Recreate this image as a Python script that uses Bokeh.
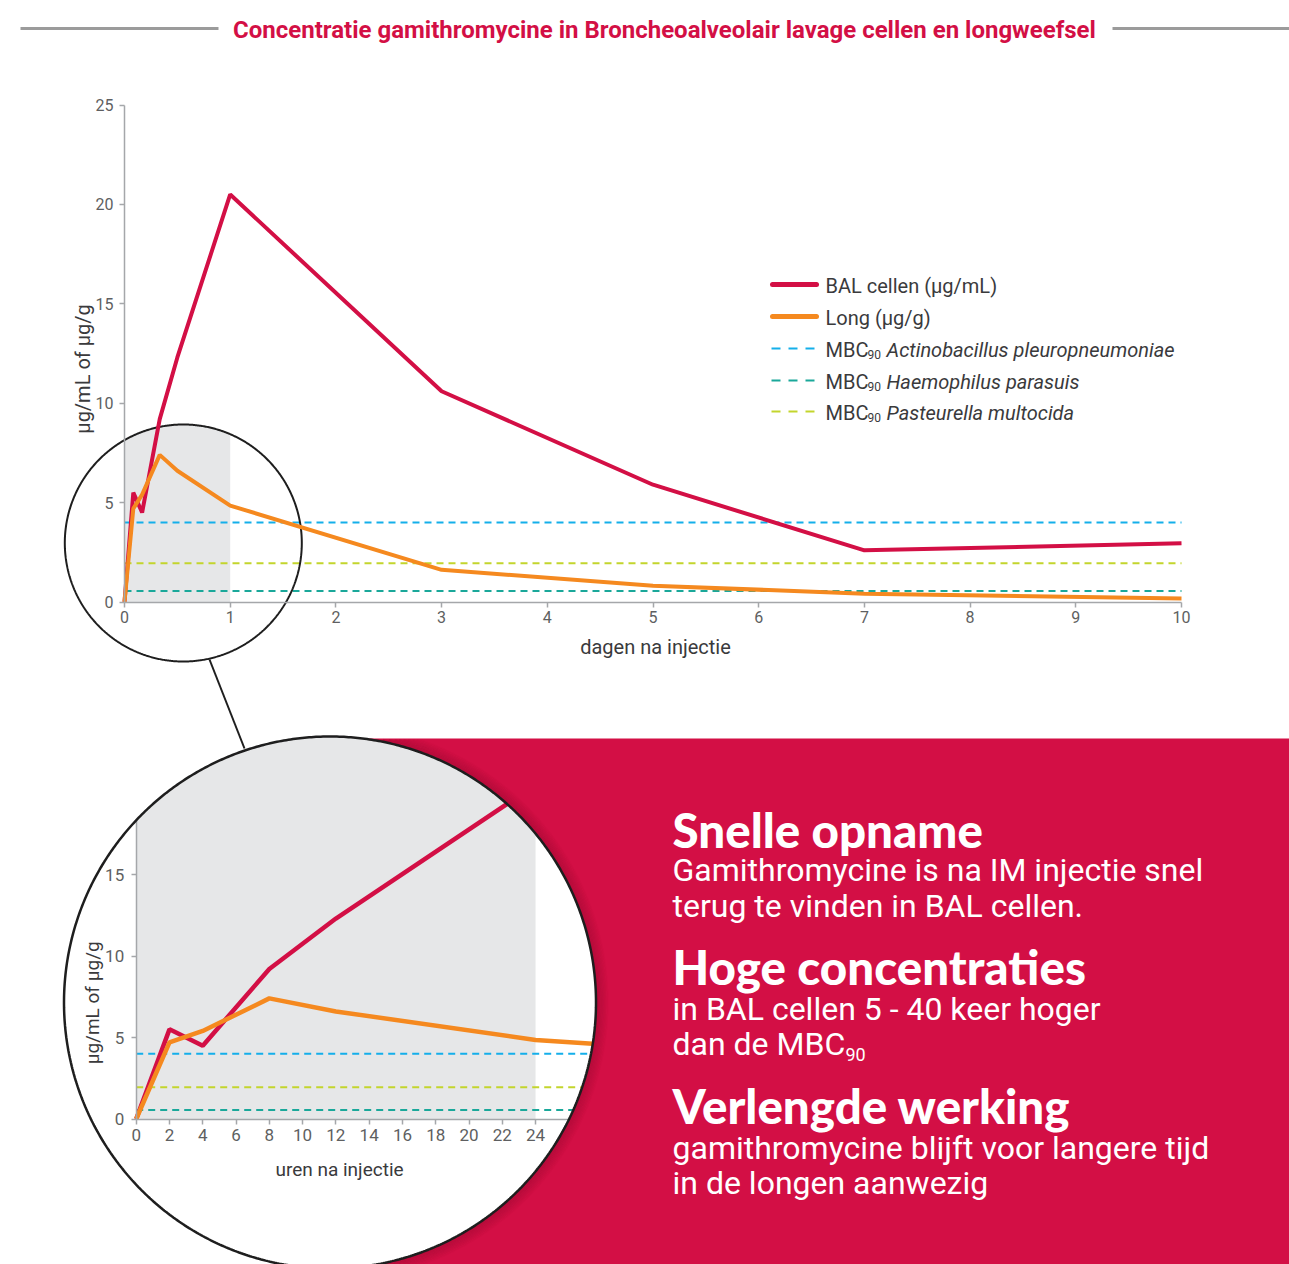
import numpy as np
from bokeh.plotting import figure
from bokeh.models import Range1d, LinearAxis, FixedTicker
from bokeh.core.properties import value
from bokeh.embed import file_html
from bokeh.resources import INLINE

# ---------------- data ----------------
hours = [0, 2, 4, 8, 12, 24, 72, 120, 168, 240]
bal_cells = [0, 5.5, 4.5, 9.2, 12.3, 20.5, 10.6, 5.9, 2.6, 2.95]
lung = [0, 4.7, 5.4, 7.4, 6.6, 4.85, 1.62, 0.82, 0.42, 0.18]
mbc_species = ["Actinobacillus pleuropneumoniae", "Haemophilus parasuis", "Pasteurella multocida"]
mbc90 = [4.0, 0.55, 1.95]
series_labels = ["BAL cellen (µg/mL)", "Long (µg/g)"]
zoom_span_hours = [0, 24]
main_y_ticks = [0, 5, 10, 15, 20, 25]
main_x_ticks = [0, 1, 2, 3, 4, 5, 6, 7, 8, 9, 10]
inset_y_ticks = [0, 5, 10, 15]
inset_x_ticks = [0, 2, 4, 6, 8, 10, 12, 14, 16, 18, 20, 22, 24]
title = "Concentratie gamithromycine in Broncheoalveolair lavage cellen en longweefsel"
y_title = "µg/mL of  µg/g"
main_x_title = "dagen na injectie"
inset_x_title = "uren na injectie"
panel_heads = ["Snelle opname", "Hoge concentraties", "Verlengde werking"]
panel_lines = [["Gamithromycine is na IM injectie snel", "terug te vinden in BAL cellen."],
               ["in BAL cellen 5 - 40 keer hoger", "dan de MBC"],
               ["gamithromycine blijft voor langere tijd", "in de longen aanwezig"]]

days = [h / 24 for h in hours]

# ---------------- style ----------------
RED = "#D30F45"
ORANGE = "#F5891F"
MBC_COLORS = ["#14AFEA", "#1AA89A", "#C3D52D"]
GRAYBG = "#E6E7E8"
AXIS = "#A5A7AA"
TICKC = "#5E5F61"
TEXTC = "#3A3A3C"
FONT = "Roboto"
HEAD = "Lato Black"

W, H = 1289, 1264
L, T = 0, 0
R, B = L + W, T + H
MX0, MXS = 124.0, 105.7
MY0, MYS = 601.5, 19.88
IX0, IXS = 135.7, 16.64
IY0, IYS = 1118.5, 16.3
SCX, SCY, SCR = 182.8, 542.5, 118.5
BCX, BCY, BCR = 329.5, 1002.0, 266.0
PANEL_TOP = 738

p = figure(width=W, height=H, x_range=Range1d(L, R), y_range=Range1d(B, T),
           min_border=0, toolbar_location=None, output_backend="svg",
           x_axis_type=None, y_axis_type=None, outline_line_color=None,
           background_fill_color="white", border_fill_color="white")
p.extra_x_ranges = {"dx": Range1d((L - MX0) / MXS, (R - MX0) / MXS),
                    "hx": Range1d((L - IX0) / IXS, (R - IX0) / IXS)}
p.extra_y_ranges = {"cy": Range1d((MY0 - B) / MYS, (MY0 - T) / MYS),
                    "hy": Range1d((IY0 - B) / IYS, (IY0 - T) / IYS)}


def txt(x, y, s, size, color, font=FONT, style="normal", align="left",
        baseline="middle", angle=0.0, level="overlay"):
    r = p.text(x=[x], y=[y], text=[s], text_font=value(font),
               text_font_size=f"{size}px", text_color=color,
               text_font_style=style, text_align=align,
               text_baseline=baseline, angle=angle)
    r.level = level
    return r


def style_axis(ax, size, standoff, tick_out=5):
    ax.axis_line_color = AXIS
    ax.axis_line_width = 1.5
    ax.major_tick_line_color = AXIS
    ax.major_tick_line_width = 1.5
    ax.major_tick_out = tick_out
    ax.major_tick_in = 0
    ax.minor_tick_line_color = None
    ax.major_label_text_font = FONT
    ax.major_label_text_font_size = f"{size}px"
    ax.major_label_text_color = TICKC
    ax.major_label_standoff = standoff


# ---------------- title ----------------
p.segment(x0=[20, 1112], y0=[28, 28], x1=[218, R], y1=[28, 28],
          line_color="#9B9B9B", line_width=3)
txt(664, 29, title, 24, RED, style="bold", align="center")

# ---------------- main chart ----------------
gx0 = MX0 + zoom_span_hours[0] / 24 * MXS
gx1 = MX0 + zoom_span_hours[1] / 24 * MXS
gxs = np.linspace(gx0, gx1, 200)
half = np.sqrt(np.clip(SCR ** 2 - (gxs - SCX) ** 2, 0, None))
top = SCY - half
bot = np.minimum(MY0, SCY + half)
p.patch(np.concatenate([gxs, gxs[::-1]]), np.concatenate([top, bot[::-1]]),
        fill_color=GRAYBG, line_color=None)

for v, c in zip(mbc90, MBC_COLORS):
    p.segment(x0=[days[0]], y0=[v], x1=[days[-1]], y1=[v], x_range_name="dx",
              y_range_name="cy", line_color=c, line_width=2, line_dash="7 5")

th = np.linspace(0, 2 * np.pi, 721)
p.line(SCX + SCR * np.cos(th), SCY + SCR * np.sin(th), line_color="#1E1E1E", line_width=2)

p.line(days, bal_cells, x_range_name="dx", y_range_name="cy", line_color=RED, line_width=4)
p.line(days, lung, x_range_name="dx", y_range_name="cy", line_color=ORANGE, line_width=4)

yax = LinearAxis(x_range_name="dx", y_range_name="cy", fixed_location=0,
                 bounds=(main_y_ticks[0], main_y_ticks[-1]), ticker=FixedTicker(ticks=main_y_ticks))
style_axis(yax, 16, 6)
p.add_layout(yax, "left")
xax = LinearAxis(x_range_name="dx", y_range_name="cy", fixed_location=0,
                 bounds=(main_x_ticks[0], main_x_ticks[-1]), ticker=FixedTicker(ticks=main_x_ticks))
style_axis(xax, 16, 4)
p.add_layout(xax, "below")

txt(655, 646, main_x_title, 20, TEXTC, align="center", level="glyph")
txt(82, 366, y_title, 20, TEXTC, angle=np.pi / 2, align="center", level="glyph")

# legend
leg_y = [284, 316, 348, 380, 411]
p.segment(x0=[772, 772], y0=leg_y[:2], x1=[816, 816], y1=leg_y[:2],
          line_color=[RED, ORANGE], line_width=5, line_cap="round")
order = [0, 1, 2]
for i, k in enumerate(order):
    p.segment(x0=[771], y0=[leg_y[2 + i]], x1=[818], y1=[leg_y[2 + i]],
              line_color=MBC_COLORS[k], line_width=2, line_dash="9 8")
txt(825, leg_y[0] + 1, series_labels[0], 20, TEXTC)
txt(825, leg_y[1] + 1, series_labels[1], 20, TEXTC)
for i, k in enumerate(order):
    txt(825, leg_y[2 + i] + 1, "MBC", 20, TEXTC)
    txt(867, leg_y[2 + i] + 6, "90", 12, TEXTC)
    txt(886, leg_y[2 + i] + 1, mbc_species[k], 20, TEXTC, style="italic")

# ---------------- inset (zoom) ----------------
p.quad(left=[zoom_span_hours[0]], right=[zoom_span_hours[1]], bottom=[0], top=[25],
       x_range_name="hx", y_range_name="hy", fill_color=GRAYBG, line_color=None)
for v, c in zip(mbc90, MBC_COLORS):
    p.segment(x0=[hours[0]], y0=[v], x1=[hours[-1]], y1=[v], x_range_name="hx",
              y_range_name="hy", line_color=c, line_width=2, line_dash="7 5")
p.line(hours, bal_cells, x_range_name="hx", y_range_name="hy", line_color=RED, line_width=4.5)
p.line(hours, lung, x_range_name="hx", y_range_name="hy", line_color=ORANGE, line_width=4.5)

ytop = (IY0 - (BCY - np.sqrt(BCR ** 2 - (IX0 - BCX) ** 2))) / IYS
xright = (BCX + np.sqrt(BCR ** 2 - (IY0 - BCY) ** 2) - IX0) / IXS
iyax = LinearAxis(x_range_name="hx", y_range_name="hy", fixed_location=0,
                  bounds=(0, float(ytop)), ticker=FixedTicker(ticks=inset_y_ticks))
style_axis(iyax, 17, 7)
p.add_layout(iyax, "left")
ixax = LinearAxis(x_range_name="hx", y_range_name="hy", fixed_location=0,
                  bounds=(0, float(xright)), ticker=FixedTicker(ticks=inset_x_ticks))
style_axis(ixax, 17, 5)
p.add_layout(ixax, "below")
txt(339, 1169, inset_x_title, 19, TEXTC, align="center")
txt(92, 1000, y_title, 19, TEXTC, angle=np.pi / 2, align="center")

# masks: everything outside the big circle
cxs = BCX + BCR * np.cos(th)
cys = BCY + BCR * np.sin(th)
p.multi_polygons(xs=[[[[40, R, R, 40], list(cxs[::-1])]]],
                 ys=[[[[690, 690, B + 40, B + 40], list(cys[::-1])]]],
                 fill_color="white", line_color=None, level="overlay")
# red panel = rectangle minus the lens
a_top = np.arctan2(PANEL_TOP - BCY, np.sqrt(BCR ** 2 - (PANEL_TOP - BCY) ** 2))
a_bot = np.arctan2(B - BCY, np.sqrt(BCR ** 2 - (B - BCY) ** 2))
arc = np.linspace(a_bot, a_top, 400)
px_ = np.concatenate([[BCX + BCR * np.cos(a_top), R, R, BCX + BCR * np.cos(a_bot)],
                      BCX + BCR * np.cos(arc)])
py_ = np.concatenate([[PANEL_TOP, PANEL_TOP, B, B], BCY + BCR * np.sin(arc)])
p.patch(px_, py_, fill_color=RED, line_color=None, level="overlay")
# shadow of the lens on the red panel
tt = np.linspace(-np.pi / 2, np.pi / 2, 600)
for k in range(10):
    rr = BCR + 1 + k * 1.2
    xs = BCX + rr * np.cos(tt)
    ys = BCY + rr * np.sin(tt)
    m = (ys >= PANEL_TOP + 1) & (ys <= B)
    p.line(xs[m], ys[m], line_color="#5C0019", line_alpha=0.2 * (1 - k / 10),
           line_width=1.5, level="overlay")
p.line(cxs, cys, line_color="#1E1E1E", line_width=2.5, level="overlay")
p.line([209, 244], [659, 748], line_color="#1E1E1E", line_width=2, level="overlay")

# ---------------- red panel text ----------------
head_y = [829, 966, 1105]
body_y = [[869, 905], [1008, 1043], [1147, 1182]]
for hd, hy_, lines, bys in zip(panel_heads, head_y, panel_lines, body_y):
    txt(672, hy_, hd, 47.5, "white", font=HEAD)
    for ln, by in zip(lines, bys):
        txt(672, by, ln, 32, "white")
txt(845, 1054, "90", 18, "white")

open("out.html", "w").write(file_html(p, INLINE))
